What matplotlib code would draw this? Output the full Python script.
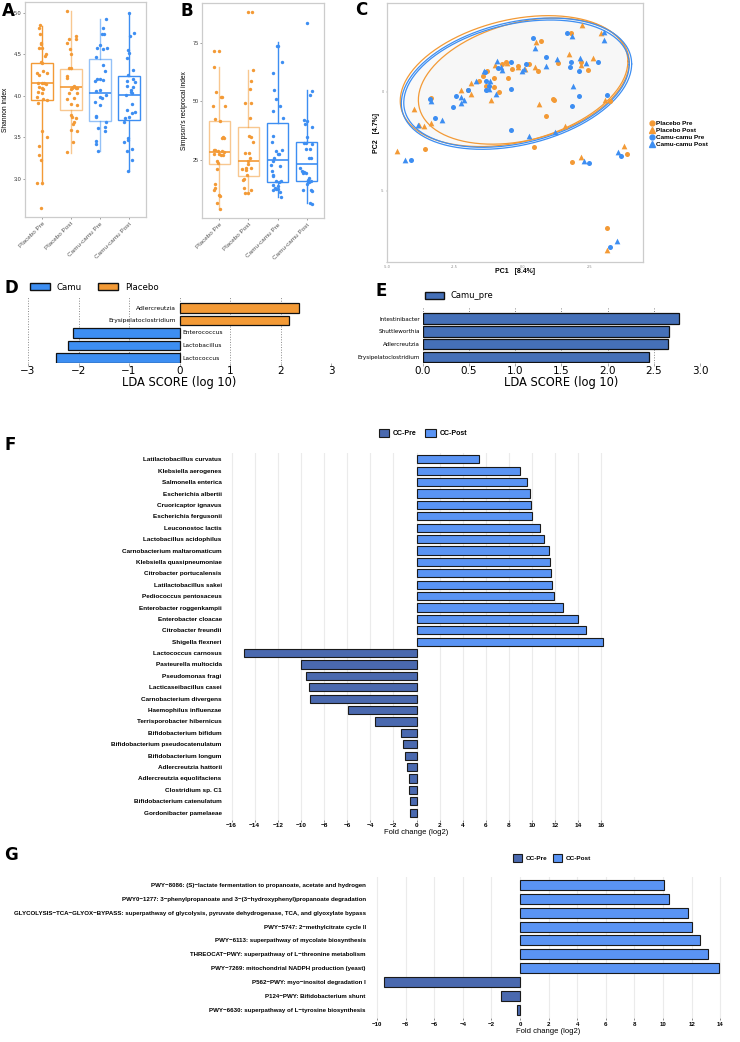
import numpy as np
import matplotlib
matplotlib.use('Agg')
import matplotlib.pyplot as plt
from matplotlib.patches import Patch
from matplotlib.lines import Line2D

## ---------------- data ----------------
groups = ['Placebo Pre', 'Placebo Post', 'Camu-camu Pre', 'Camu-camu Post']

## A : Shannon index box stats
shannon_q1 = [3.95, 3.83, 3.70, 3.71]
shannon_med = [4.15, 4.11, 4.03, 4.01]
shannon_q3 = [4.40, 4.32, 4.44, 4.24]
shannon_lo = [2.94, 3.31, 3.33, 3.09]
shannon_hi = [4.84, 5.02, 4.92, 5.00]

## A : jittered points (value, offset from group centre)
sh_pp_y = [4.85, 4.82, 4.74, 4.57, 4.64, 4.63, 4.58, 4.50, 4.48, 4.41, 4.40, 4.30, 4.28, 4.27, 4.25, 4.16, 4.15, 4.15,
           4.14, 4.11, 4.09, 4.08, 4.05, 4.03, 3.99, 3.96, 3.95, 3.91, 3.57, 3.50, 3.40, 3.29, 3.23, 2.95, 2.95, 2.65]
sh_pp_dx = [-0.08, -0.12, -0.08, -0.13, -0.06, -0.05, 0.00, 0.12, 0.09, -0.06, -0.01, 0.03, 0.15, -0.17, -0.10, -0.15, 0.00, 0.07,
            0.13, -0.12, 0.00, 0.03, -0.14, -0.02, -0.17, 0.03, 0.15, -0.15, 0.00, 0.17, -0.10, -0.10, -0.06, -0.17, 0.00, -0.06]
sh_ppo_y = [5.02, 4.68, 4.64, 4.72, 4.69, 4.56, 4.50, 4.33, 4.33, 4.24, 4.22, 4.12, 4.11, 4.10, 4.09, 4.10, 4.08, 4.03,
            4.03, 3.97, 3.96, 3.90, 3.89, 3.77, 3.75, 3.73, 3.68, 3.59, 3.58, 3.44, 3.32, 3.66]
sh_ppo_dx = [-0.15, -0.07, -0.15, 0.16, 0.17, -0.05, -0.02, 0.01, -0.06, -0.13, -0.15, 0.10, 0.07, 0.16, 0.21, 0.02, -0.01, -0.09,
             0.20, 0.10, -0.14, 0.01, 0.20, 0.01, 0.03, 0.17, 0.10, 0.01, 0.20, 0.05, -0.14, 0.06]
sh_cp_y = [4.92, 4.82, 4.74, 4.74, 4.58, 4.61, 4.56, 4.58, 4.47, 4.37, 4.20, 4.18, 4.20, 4.19, 4.30, 4.06, 4.07, 4.01,
           3.99, 3.93, 3.89, 3.76, 3.74, 3.68, 3.63, 3.58, 3.61, 3.45, 3.42, 3.33, 3.97]
sh_cp_dx = [0.20, 0.10, 0.06, 0.13, 0.23, 0.02, 0.10, -0.10, -0.14, 0.10, -0.09, -0.16, 0.01, 0.12, 0.17, -0.13, 0.02, 0.22,
            0.02, -0.16, -0.01, -0.15, -0.12, 0.20, 0.16, 0.17, -0.06, -0.14, -0.13, -0.05, 0.06]
sh_cpo_y = [5.00, 4.76, 4.72, 4.55, 4.46, 4.52, 4.31, 4.25, 4.18, 4.20, 4.17, 4.11, 4.12, 4.07, 4.05, 4.03, 4.01, 3.90,
            3.83, 3.81, 3.79, 3.74, 3.73, 3.69, 3.49, 3.47, 3.44, 3.36, 3.33, 3.23, 3.10]
sh_cpo_dx = [0.01, 0.19, 0.05, -0.01, -0.05, 0.01, 0.16, -0.01, -0.07, 0.16, 0.21, 0.14, -0.05, 0.07, 0.08, 0.10, -0.08, 0.13,
             -0.07, 0.21, 0.10, 0.01, -0.13, -0.16, -0.03, -0.03, -0.16, 0.13, -0.07, 0.13, -0.01]

## B : Simpson's reciprocal index box stats
simpson_q1 = [23.3, 18.3, 15.5, 15.9]
simpson_med = [28.4, 24.4, 25.1, 23.4]
simpson_q3 = [41.5, 39.0, 40.7, 32.5]
simpson_lo = [4.1, 10.6, 9.2, 6.6]
simpson_hi = [64.6, 63.6, 75.4, 54.8]

si_pp_y = [71.4, 71.4, 64.7, 54.1, 51.8, 51.9, 47.9, 47.9, 42.5, 41.8, 34.5, 34.7, 34.4, 29.1, 29.4, 28.7, 29.0, 28.3,
           27.7, 27.7, 27.0, 26.9, 24.4, 23.7, 21.3, 14.9, 13.0, 12.3, 9.9, 9.6, 6.6, 4.2]
si_pp_dx = [-0.17, 0.00, -0.20, -0.11, 0.06, 0.09, -0.21, 0.20, -0.14, 0.01, 0.09, 0.14, 0.16, -0.18, -0.14, -0.05, 0.09, 0.15,
            -0.17, 0.00, 0.05, 0.14, -0.09, -0.05, -0.08, -0.15, -0.15, -0.17, -0.02, 0.02, -0.08, 0.02]
si_ppo_y = [88.1, 88.1, 63.6, 58.6, 55.3, 49.2, 49.1, 43.0, 35.1, 34.7, 32.5, 28.0, 28.0, 24.7, 23.4, 20.9, 21.6, 21.6,
            21.2, 16.9, 16.6, 18.7, 13.0, 12.3, 10.9, 10.9, 25.9]
si_ppo_dx = [-0.01, 0.11, 0.16, 0.07, 0.06, -0.13, 0.07, 0.05, 0.01, 0.08, 0.17, -0.13, 0.03, -0.02, 0.00, -0.08, -0.10, 0.07,
             -0.22, -0.17, -0.20, -0.06, -0.14, 0.08, -0.13, -0.03, 0.06]
si_cp_y = [73.6, 73.6, 66.9, 61.9, 54.8, 50.8, 47.9, 45.8, 42.7, 35.1, 32.7, 28.7, 27.7, 27.6, 29.4, 25.9, 24.4, 22.9,
           22.3, 20.2, 18.7, 18.0, 16.0, 15.9, 15.5, 14.5, 14.0, 13.0, 12.6, 12.3, 11.2, 9.2, 12.6]
si_cp_dx = [0.01, -0.03, 0.17, -0.17, -0.11, -0.06, 0.10, -0.15, 0.20, -0.16, -0.18, -0.06, 0.01, 0.05, 0.15, -0.11, -0.14, -0.23,
            0.10, -0.18, -0.16, -0.17, 0.11, -0.06, 0.05, -0.14, 0.03, -0.09, -0.06, -0.17, 0.09, 0.11, 0.01]
si_cpo_y = [83.3, 54.6, 52.6, 42.0, 41.8, 40.4, 39.0, 34.8, 29.7, 32.3, 32.3, 31.6, 29.7, 25.7, 25.7, 21.6, 20.2, 19.7,
            19.4, 19.4, 17.3, 16.6, 15.5, 14.9, 15.9, 12.3, 12.3, 11.6, 6.6, 6.3]
si_cpo_dx = [0.03, 0.18, 0.11, -0.08, 0.02, -0.05, 0.18, 0.01, 0.13, -0.10, -0.01, 0.18, -0.01, 0.08, 0.16, -0.22, -0.17, -0.08,
             -0.11, -0.03, 0.09, 0.05, 0.08, 0.02, 0.14, -0.14, 0.15, 0.20, 0.13, 0.18]

## C : PCA scores
pc_pp_x = [1.81, 0.69, 0.26, -0.36, -0.51, -1.04, -0.85, -1.04, -1.32, -1.29, -1.45, -3.39, -3.61, 0.45, 0.89,
           1.15, 1.19, 1.86, 2.17, 2.43, 1.31, 0.57, 3.13, 3.89, 3.26, -0.73, -0.61, -0.14, -1.60, -1.99]
pc_pp_y = [2.99, 2.60, 1.43, 1.14, 0.70, 0.72, 0.00, 0.25, 0.32, 1.06, 0.79, -0.29, -2.89, -2.80, -1.21,
           -0.37, -0.42, -3.52, 1.54, 1.09, 1.46, 1.07, -6.88, -3.15, -0.45, 1.43, 1.51, 1.29, 0.54, 0.08]
pc_ppo_x = [0.51, 2.22, 2.93, 1.72, 2.61, 2.17, 1.58, 0.63, -1.16, -1.91, -2.25, -1.91, -4.01, -3.83, -3.64,
            -3.39, -4.62, 2.19, 3.14, 3.75, 3.06, -0.56, -1.00, -0.14, 0.46, 0.11]
pc_ppo_y = [2.55, 3.41, 2.99, 1.90, 1.71, 1.38, -1.71, -0.62, -0.42, 0.47, 0.08, -0.08, -0.84, -1.68, -1.71,
            -1.56, -2.97, -3.27, -7.97, -2.72, -0.39, 1.49, 1.34, 1.26, 1.26, 1.17]
pc_cp_x = [0.40, 1.66, 0.87, 1.80, 1.76, 2.10, 2.79, 2.10, 1.86, -0.40, 0.14, -0.40, -1.35, -1.35, -0.89,
           -2.44, -2.55, -3.21, -2.02, -3.40, -4.11, -0.40, 2.46, 3.66, 3.26, 3.14, -1.21, -1.37]
pc_cp_y = [2.72, 2.99, 1.76, 1.51, 1.26, 1.06, 1.51, -0.20, -0.69, 1.51, 1.43, 0.15, 0.54, 0.08, 1.21,
           -0.20, -0.77, -1.34, 0.08, -0.37, -3.46, -1.93, -3.61, -3.22, -7.82, -0.17, 0.29, 1.01]
pc_cpo_x = [0.46, 1.83, 3.01, 3.03, 2.13, 2.36, 1.29, 0.90, 1.89, -0.92, -0.78, -0.73, -1.42, -1.19, -1.23,
            -0.95, -1.70, -2.25, -2.27, -2.17, -2.95, -3.37, -3.85, -4.33, 0.24, 1.20, 2.30, 3.54, 3.49, 0.05, 0.01]
pc_cpo_y = [2.21, 2.85, 3.05, 2.63, 1.73, 1.48, 1.68, 1.29, 0.32, 1.56, 1.26, 1.09, 1.04, 0.54, 0.17,
            -0.08, 0.57, -0.25, -0.55, -0.42, -1.43, -0.47, -1.68, -3.44, -2.22, -2.03, -3.51, -3.02, -7.52, 1.16, 1.06]

## C : confidence ellipses (centre x, centre y, half width, half height, correlation)
ell_cx = [-0.30, 0.06, -0.21, -0.21]
ell_cy = [0.55, 0.55, 0.42, 0.42]
ell_a = [4.21, 3.90, 4.26, 4.17]
ell_b = [3.31, 3.19, 3.32, 3.22]
ell_rho = [0.30, 0.30, 0.30, 0.30]

## D : LEfSe Camu vs Placebo
lefse_d_names = ['Adlercreutzia', 'Erysipelatoclostridium', 'Enterococcus', 'Lactobacillus', 'Lactococcus']
lefse_d_vals = [2.36, 2.16, -2.11, -2.20, -2.44]
lefse_d_group = ['Placebo', 'Placebo', 'Camu', 'Camu', 'Camu']

## E : LEfSe Camu_pre
lefse_e_names = ['Intestinibacter', 'Shuttleworthia', 'Adlercreutzia', 'Erysipelatoclostridium']
lefse_e_vals = [2.77, 2.66, 2.65, 2.45]

## F : species fold change
species = ['Latilactobacillus curvatus', 'Klebsiella aerogenes', 'Salmonella enterica', 'Escherichia albertii',
           'Cruoricaptor ignavus', 'Escherichia fergusonii', 'Leuconostoc lactis', 'Lactobacillus acidophilus',
           'Carnobacterium maltaromaticum', 'Klebsiella quasipneumoniae', 'Citrobacter portucalensis',
           'Latilactobacillus sakei', 'Pediococcus pentosaceus', 'Enterobacter roggenkampii', 'Enterobacter cloacae',
           'Citrobacter freundii', 'Shigella flexneri', 'Lactococcus carnosus', 'Pasteurella multocida',
           'Pseudomonas fragi', 'Lacticaseibacillus casei', 'Carnobacterium divergens', 'Haemophilus influenzae',
           'Terrisporobacter hibernicus', 'Bifidobacterium bifidum', 'Bifidobacterium pseudocatenulatum',
           'Bifidobacterium longum', 'Adlercreutzia hattorii', 'Adlercreutzia equolifaciens', 'Clostridium sp. C1',
           'Bifidobacterium catenulatum', 'Gordonibacter pamelaeae']
species_fc = [5.37, 8.92, 9.56, 9.81, 9.87, 10.01, 10.67, 11.02, 11.45, 11.56, 11.62, 11.74, 11.88, 12.65, 13.97,
              14.69, 16.10, -14.9, -9.98, -9.53, -9.32, -9.24, -5.94, -3.62, -1.38, -1.14, -0.98, -0.81, -0.69,
              -0.65, -0.53, -0.53]

## G : pathway fold change
pathways = ['PWY\u22128086: (S)\u2212lactate fermentation to propanoate, acetate and hydrogen',
            'PWY0\u22121277: 3\u2212phenylpropanoate and 3\u2212(3\u2212hydroxyphenyl)propanoate degradation',
            'GLYCOLYSIS\u2212TCA\u2212GLYOX\u2212BYPASS: superpathway of glycolysis, pyruvate dehydrogenase, TCA, and glyoxylate bypass',
            'PWY\u22125747: 2\u2212methylcitrate cycle II',
            'PWY\u22126113: superpathway of mycolate biosynthesis',
            'THREOCAT\u2212PWY: superpathway of L\u2212threonine metabolism',
            'PWY\u22127269: mitochondrial NADPH production (yeast)',
            'P562\u2212PWY: myo\u2212inositol degradation I',
            'P124\u2212PWY: Bifidobacterium shunt',
            'PWY\u22126630: superpathway of L\u2212tyrosine biosynthesis']
pathway_fc = [10.07, 10.40, 11.75, 12.02, 12.61, 13.14, 13.93, -9.51, -1.35, -0.23]

## ---------------- style ----------------
ORANGE = '#F39A36'
BLUE = '#3D8EF2'
CC_PRE = '#4A69AF'
CC_POST = '#5A94F4'
CAMU_PRE = '#4570B8'
GG_FONT = 'Liberation Sans'

W, H = 740, 1042
fig = plt.figure(figsize=(W / 100, H / 100), dpi=100)


def px_axes(l, t, r, b):
    ## axes placed with pixel coordinates of the target image
    return fig.add_axes([l / W, 1 - b / H, (r - l) / W, (b - t) / H])


def panel_label(x, y, s, size=13):
    fig.text(x / W, 1 - y / H, s, fontsize=size, fontweight='bold', ha='left', va='center', family='DejaVu Sans')


def box_panel(ax, q1, med, q3, lo, hi, pts, alphas, ylim, yticks, ylabel):
    cols = [ORANGE, ORANGE, BLUE, BLUE]
    for i in range(4):
        st = [{'med': med[i], 'q1': q1[i], 'q3': q3[i], 'whislo': lo[i], 'whishi': hi[i], 'fliers': []}]
        ax.bxp(st, positions=[i + 1], widths=0.75, showcaps=False, patch_artist=True,
               boxprops=dict(facecolor='none', edgecolor=cols[i], alpha=alphas[i], lw=1.0),
               whiskerprops=dict(color=cols[i], alpha=alphas[i], lw=1.0),
               medianprops=dict(color=cols[i], lw=1.2))
        ys, dxs = pts[i]
        ax.scatter(np.array(dxs) + i + 1, ys, s=6, color=cols[i], linewidths=0, zorder=3)
    ax.set_xlim(0.4, 4.6)
    ax.set_ylim(*ylim)
    ax.set_yticks(yticks)
    ax.set_xticks([1, 2, 3, 4])
    ax.set_xticklabels(groups, rotation=45, ha='right', rotation_mode='anchor', fontsize=4.6, color='#222222',
                       family=GG_FONT)
    ax.tick_params(axis='y', labelsize=4.0, length=1.5, width=0.4, colors='#555555', pad=1)
    ax.tick_params(axis='x', length=1.5, width=0.4, colors='#555555', pad=1.5)
    for lab in ax.get_yticklabels():
        lab.set_family(GG_FONT)
        lab.set_color('#333333')
    for sp in ax.spines.values():
        sp.set_color('#CCCCCC')
        sp.set_linewidth(0.9)
    ax.set_ylabel(ylabel, fontsize=4.8, family=GG_FONT, labelpad=3)


## ---------------- A ----------------
axA = px_axes(25, 2, 146, 217)
box_panel(axA, shannon_q1, shannon_med, shannon_q3, shannon_lo, shannon_hi,
          [(sh_pp_y, sh_pp_dx), (sh_ppo_y, sh_ppo_dx), (sh_cp_y, sh_cp_dx), (sh_cpo_y, sh_cpo_dx)],
          [1.0, 0.55, 0.55, 1.0], (2.54, 5.13), [3.0, 3.5, 4.0, 4.5, 5.0], 'Shannon index')
axA.set_yticklabels(['3.0', '3.5', '4.0', '4.5', '5.0'])
panel_label(2, 11, 'A', 12)

## ---------------- B ----------------
axB = px_axes(202, 3, 324, 218)
box_panel(axB, simpson_q1, simpson_med, simpson_q3, simpson_lo, simpson_hi,
          [(si_pp_y, si_pp_dx), (si_ppo_y, si_ppo_dx), (si_cp_y, si_cp_dx), (si_cpo_y, si_cpo_dx)],
          [0.55, 0.55, 1.0, 1.0], (0.2, 92), [25, 50, 75], "Simpson's reciprocal index")
panel_label(181, 11, 'B', 12)

## ---------------- C ----------------
axC = px_axes(387, 3, 643, 262)
ell_cols = [ORANGE, ORANGE, BLUE, BLUE]
t = np.linspace(0, 2 * np.pi, 200)
for i in range(4):
    d = np.arccos(ell_rho[i])
    ex = ell_cx[i] + ell_a[i] * np.cos(t)
    ey = ell_cy[i] + ell_b[i] * np.cos(t - d)
    axC.fill(ex, ey, color='#E4E4E4', alpha=0.06, lw=0, zorder=1)
    axC.plot(ex, ey, color=ell_cols[i], lw=0.9, zorder=2)
axC.scatter(pc_pp_x, pc_pp_y, s=13, marker='o', color=ORANGE, linewidths=0, zorder=3)
axC.scatter(pc_ppo_x, pc_ppo_y, s=17, marker='^', color=ORANGE, linewidths=0, zorder=3)
axC.scatter(pc_cp_x, pc_cp_y, s=13, marker='o', color=BLUE, linewidths=0, zorder=3)
axC.scatter(pc_cpo_x, pc_cpo_y, s=17, marker='^', color=BLUE, linewidths=0, zorder=3)
axC.set_xlim(-5.0, 4.47)
axC.set_ylim(-8.6, 4.5)
axC.set_xticks([-5.0, -2.5, 0.0, 2.5])
axC.set_xticklabels(['-5.0', '-2.5', '0.0', '2.5'])
axC.set_yticks([-5, 0])
axC.set_yticklabels(['-5', '0'])
axC.tick_params(labelsize=2.5, length=1, width=0.3, colors='#888888', pad=1)
for sp in axC.spines.values():
    sp.set_color('#CCCCCC')
    sp.set_linewidth(0.9)
fig.text(515 / W, 1 - 272 / H, 'PC1   [8.4%]', fontsize=5, fontweight='bold', ha='center', va='center', family=GG_FONT)
fig.text(376 / W, 1 - 133 / H, 'PC2   [4.7%]', fontsize=5, fontweight='bold', ha='center', va='center',
         rotation=90, family=GG_FONT)
c_handles = [Line2D([], [], marker='o', color=ORANGE, ls='', markersize=3.5),
             Line2D([], [], marker='^', color=ORANGE, ls='', markersize=4),
             Line2D([], [], marker='o', color=BLUE, ls='', markersize=3.5),
             Line2D([], [], marker='^', color=BLUE, ls='', markersize=4)]
legC = fig.legend(c_handles, groups, loc='center left', bbox_to_anchor=(649 / W, 1 - 134 / H), frameon=False,
                  prop={'family': GG_FONT, 'size': 4.6, 'weight': 'bold'}, handlelength=0.8, handletextpad=0.3,
                  labelspacing=0.25, borderaxespad=0, borderpad=0)
panel_label(355, 10, 'C', 12)

## ---------------- D ----------------
axD = px_axes(28, 297, 331, 363)
yD = np.arange(len(lefse_d_vals))[::-1]
colD = [ORANGE if g == 'Placebo' else BLUE for g in lefse_d_group]
axD.barh(yD, lefse_d_vals, height=0.75, color=colD, edgecolor='#111111', lw=0.9, zorder=3)
for y, v, n in zip(yD, lefse_d_vals, lefse_d_names):
    if v > 0:
        axD.text(-0.08, y, n, ha='right', va='center', fontsize=4.3, zorder=4)
    else:
        axD.text(0.06, y, n, ha='left', va='center', fontsize=4.3, zorder=4)
axD.set_xlim(-3, 3)
axD.set_ylim(-0.4, 4.88)
axD.set_yticks([])
axD.set_xticks(range(-3, 4))
axD.tick_params(axis='x', labelsize=7.5, length=2, width=0.6, colors='#999999', labelcolor='black', pad=0.5)
axD.xaxis.grid(True, ls=':', color='#888888', lw=0.7)
axD.set_axisbelow(True)
for sp in axD.spines.values():
    sp.set_visible(False)
axD.set_xlabel('LDA SCORE (log 10)', fontsize=8.3, labelpad=0)
fig.legend([Patch(facecolor=BLUE, edgecolor='#111111'), Patch(facecolor=ORANGE, edgecolor='#111111')],
           ['Camu', 'Placebo'], loc='center left', bbox_to_anchor=(30 / W, 1 - 287 / H), ncol=2, frameon=False,
           fontsize=6.2, handlelength=2.3, handleheight=0.8, handletextpad=0.8, columnspacing=1.9,
           borderaxespad=0, borderpad=0)
panel_label(4, 288, 'D', 12)

## ---------------- E ----------------
axE = px_axes(422.7, 307, 700, 363)
yE = np.arange(len(lefse_e_vals))[::-1]
axE.barh(yE, lefse_e_vals, height=0.8, color=CAMU_PRE, edgecolor='#111111', lw=0.9, zorder=3)
axE.set_xlim(0, 3)
axE.set_ylim(-0.45, 3.9)
axE.set_yticks(yE)
axE.set_yticklabels(lefse_e_names, fontsize=4.1)
axE.set_xticks(np.arange(0, 3.01, 0.5))
axE.tick_params(axis='y', length=0, pad=2)
axE.tick_params(axis='x', labelsize=7.5, length=2, width=0.6, colors='#999999', labelcolor='black', pad=0.5)
axE.xaxis.grid(True, ls=':', color='#888888', lw=0.7)
axE.set_axisbelow(True)
for sp in axE.spines.values():
    sp.set_visible(False)
axE.set_xlabel('LDA SCORE (log 10)', fontsize=8.3, labelpad=0)
fig.legend([Patch(facecolor=CAMU_PRE, edgecolor='#111111')], ['Camu_pre'], loc='center left',
           bbox_to_anchor=(425 / W, 1 - 296 / H), frameon=False, fontsize=6, handlelength=2.3,
           handleheight=0.8, handletextpad=0.8, borderaxespad=0, borderpad=0)
panel_label(375, 291, 'E', 12)


## ---------------- F and G ----------------
def fc_panel(ax, names, vals, ticks, size):
    cols = [CC_POST if v > 0 else CC_PRE for v in vals]
    y = np.arange(len(vals))
    ax.barh(y, vals, height=0.72, color=cols, edgecolor='#1A1A1A', lw=0.8, zorder=3)
    ax.set_ylim(len(vals) - 0.4, -0.6)
    ax.set_yticks(y)
    ax.set_yticklabels(names, fontsize=size, fontweight='bold', family=GG_FONT)
    ax.set_xticks(ticks)
    ax.set_xticklabels([str(v).replace('-', '\u2212') for v in ticks], fontsize=size, fontweight='bold',
                       family=GG_FONT)
    ax.tick_params(axis='y', length=0, pad=3)
    ax.tick_params(axis='x', length=1.5, width=0.4, color='#333333', pad=1)
    ax.xaxis.grid(True, color='#EBEBEB', lw=0.8)
    ax.set_axisbelow(True)
    for sp in ax.spines.values():
        sp.set_visible(False)
    ax.set_xlabel('Fold change (log2)', fontsize=5.5, family=GG_FONT, labelpad=1)


cc_handles = [Patch(facecolor=CC_PRE, edgecolor='#1A1A1A', lw=0.8), Patch(facecolor=CC_POST, edgecolor='#1A1A1A', lw=0.8)]

axF = px_axes(225.8, 452.5, 607.2, 819.5)
fc_panel(axF, species, species_fc, list(range(-16, 17, 2)), 4.6)
axF.set_xlim(-16.5, 16.5)
fig.legend(cc_handles, ['CC-Pre', 'CC-Post'], loc='center', bbox_to_anchor=(423 / W, 1 - 433 / H), ncol=2,
           frameon=False, prop={'family': GG_FONT, 'size': 5, 'weight': 'bold'}, handlelength=1.5,
           handleheight=1.6, handletextpad=0.6, columnspacing=1.2, borderaxespad=0, borderpad=0)
panel_label(4, 445, 'F', 12)

axG = px_axes(370, 876.6, 727, 1018.1)
fc_panel(axG, pathways, pathway_fc, list(range(-10, 15, 2)), 4.4)
axG.set_xlim(-10.5, 14.48)
fig.legend(cc_handles, ['CC-Pre', 'CC-Post'], loc='center', bbox_to_anchor=(552 / W, 1 - 858 / H), ncol=2,
           frameon=False, prop={'family': GG_FONT, 'size': 4.6, 'weight': 'bold'}, handlelength=1.3,
           handleheight=1.7, handletextpad=0.6, columnspacing=1.0, borderaxespad=0, borderpad=0)
panel_label(4, 855, 'G', 12)

fig.savefig('out.png', dpi=100)
